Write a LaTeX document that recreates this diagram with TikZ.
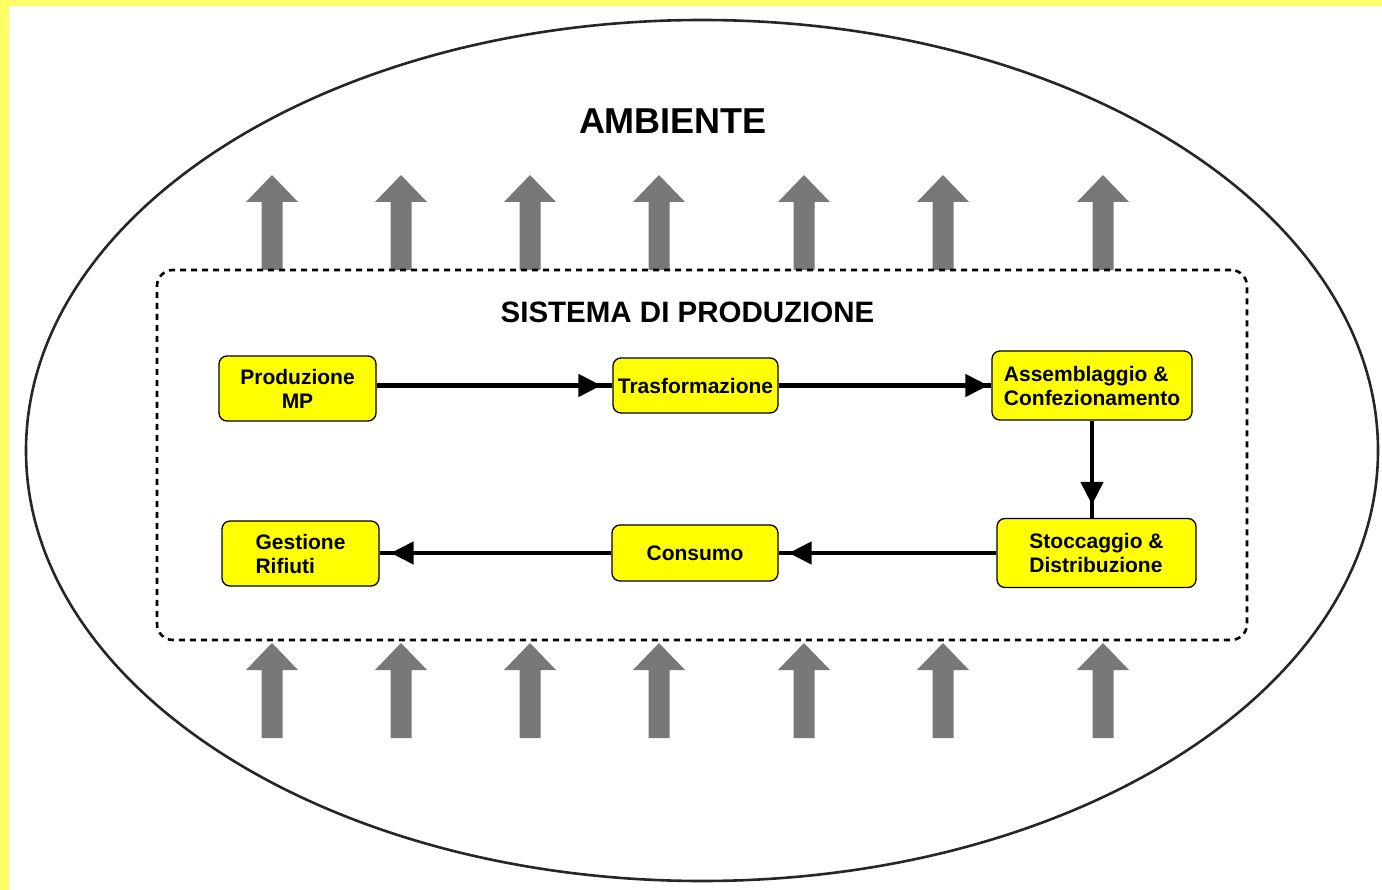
\documentclass[tikz,border=0pt]{standalone}
\usepackage{fontspec}
\setmainfont{Liberation Sans}
\usetikzlibrary{arrows.meta,shapes.geometric,decorations.markings}
\definecolor{bordery}{HTML}{FFFF66}
\definecolor{boxy}{HTML}{FFFF00}
\definecolor{arrgray}{HTML}{787878}
\tikzset{
  stepbox/.style={draw=black, line width=1.3pt, fill=boxy, rounded corners=8pt,
    inner sep=0pt, align=center, font=\bfseries\fontsize{21}{24}\selectfont},
  conn/.style={draw=black, line width=4.5pt,
    postaction={decorate, decoration={markings,
      mark=at position -#1 with {\arrow{Triangle[length=23pt,width=22pt]}}}}},
  conn/.default=10pt,
  blockarrow/.pic={\fill[arrgray] (-10.5,0) -- (-10.5,-68) -- (-26,-68) -- (0,-95)
    -- (26,-68) -- (10.5,-68) -- (10.5,0) -- cycle;}
}
\begin{document}
\begin{tikzpicture}[x=1pt,y=-1pt]
\useasboundingbox (0,0) rectangle (1382,890);
\fill[white] (0,0) rectangle (1382,890);
\fill[bordery] (0,0) rectangle (1382,6);
\fill[bordery] (0,0) rectangle (9,890);
% environment ellipse
\node[ellipse, draw=black!85, line width=2.6pt, minimum width=1352pt,
  minimum height=861pt, inner sep=0pt] (env) at (702,450.5) {};
\node[font=\bfseries\fontsize{36}{40}\selectfont] (amb) at (673,121) {AMBIENTE};
% block arrows
\foreach \x in {272,401,530,659,804,943,1103}{
  \pic at (\x,270) {blockarrow};
  \pic at (\x,738) {blockarrow};
}
% production system
\node[draw=black, line width=2.6pt, dash pattern=on 6pt off 5pt, rounded corners=16pt,
  minimum width=1090pt, minimum height=370pt] (sys) at (702,455) {};
\node[font=\bfseries\fontsize{29.5}{32}\selectfont] (syslab) at (687.5,312) {SISTEMA DI PRODUZIONE};
% steps
\node[stepbox, minimum width=157pt, minimum height=65pt] (pmp) at (297.5,388.5) {Produzione\\MP};
\node[stepbox, minimum width=165pt, minimum height=55pt] (tra) at (695.5,385.5) {Trasformazione};
\node[stepbox, align=left, minimum width=200pt, minimum height=69pt] (ass) at (1092,385.5) {Assemblaggio \&\\Confezionamento};
\node[stepbox, align=left, minimum width=199pt, minimum height=69pt] (sto) at (1096.5,553) {Stoccaggio \&\\Distribuzione};
\node[stepbox, minimum width=166pt, minimum height=56pt] (con) at (695,553) {Consumo};
\node[stepbox, align=left, minimum width=157pt, minimum height=65pt] (ges) at (300.5,553.5) {Gestione\\Rifiuti};
% connectors
\draw[conn=11pt] (pmp.east |- tra.west) -- (tra.west);
\draw[conn=3pt] (tra.east) -- (tra.east -| ass.west);
\draw[conn=13pt] (ass.south) -- (ass.south |- sto.north);
\draw[conn=10pt] (sto.west) -- (sto.west -| con.east);
\draw[conn=11pt] (con.west) -- (con.west -| ges.east);
\end{tikzpicture}
\end{document}
